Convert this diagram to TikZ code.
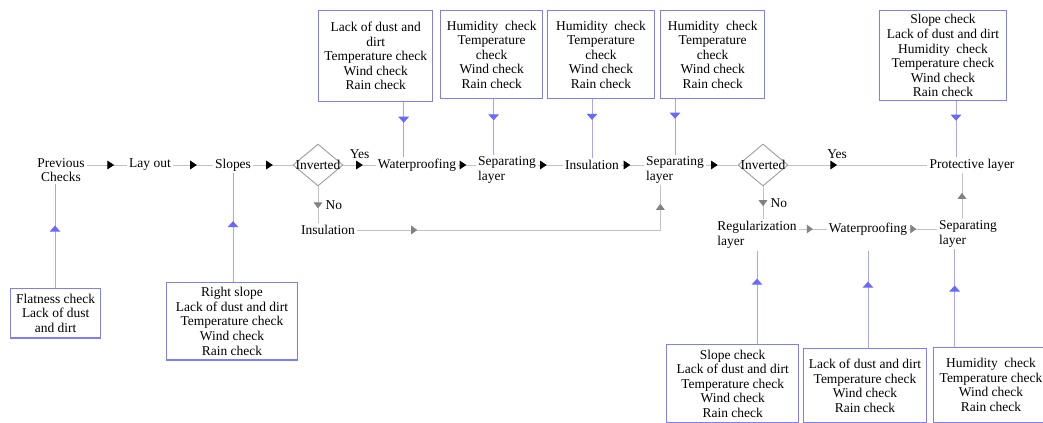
\documentclass[tikz,border=0pt]{standalone}
\usepackage{fontspec}
\setmainfont{Liberation Serif}
\usepackage{tikz}
\usetikzlibrary{arrows.meta,decorations.markings,shapes.geometric}
\definecolor{flowgray}{RGB}{195,195,195}
\definecolor{tipgray}{RGB}{130,130,130}
\definecolor{chkblue}{RGB}{125,125,255}
\definecolor{feedblue}{RGB}{165,165,255}
\definecolor{tipblue}{RGB}{105,105,255}
\newcommand{\flowfont}{\fontsize{10.1}{10.9}\selectfont}
\tikzset{
    %Define style for the stages
    stage/.style={
           font=\flowfont,
           inner sep=1.5pt,
           align=center},
    stagel/.style={
           stage,
           align=left},
    %Define style for the decisions
    decide/.style={
           diamond,
           draw=gray!75, line width=0.7pt,
           inner sep=0pt,
           minimum width=37.5pt,
           minimum height=31.5pt},
    %Define style for the check boxes
    chk/.style={
           rectangle,
           draw=chkblue, line width=1pt,
           anchor=north west,
           inner sep=2pt,
           font=\flowfont,
           align=center},
    % Define arrow styles
    flow/.style={
           draw=flowgray, line width=0.6pt,
           postaction={decorate},
           decoration={markings, mark=at position #1 with {\arrow[black]{Triangle[length=5pt,width=6.5pt]}}}},
    flow/.default=0.5,
    back/.style={
           draw=flowgray, line width=0.6pt,
           postaction={decorate},
           decoration={markings, mark=at position #1 with {\arrow[tipgray]{Triangle[length=4.5pt,width=6.5pt]}}}},
    back/.default=0.5,
    feed/.style={
           draw=feedblue, line width=0.7pt,
           postaction={decorate},
           decoration={markings, mark=at position #1 with {\arrow[tipblue]{Triangle[length=4.5pt,width=8pt]}}}},
    feed/.default=0.5
}
\begin{document}
\begin{tikzpicture}[x=0.75pt,y=-0.75pt]
\useasboundingbox (0,0) rectangle (1043,422);
 %main row
\node[stage] (prev) at (61,170) {Previous\\Checks};
\node[stage] (layout) at (150,165) {Lay out};
\node[stage] (slopes) at (233,165) {Slopes};
\node[decide, label={[stage,inner sep=0pt]center:Inverted}] (inv1) at (318,165) {};
\node[stage] (wp1) at (417,165) {Waterproofing};
\node[stagel] (sep1) at (507,170) {Separating\\layer};
\node[stage] (ins1) at (592,165) {Insulation};
\node[stagel] (sep2) at (675,170) {Separating\\layer};
\node[decide, label={[stage,inner sep=0pt]center:Inverted}] (inv2) at (763,165) {};
\node[stage] (prot) at (972,165) {Protective layer};
 %lower branches
\node[stage] (ins2) at (328,230) {Insulation};
\node[stagel] (reg) at (757,235) {Regularization\\layer};
\node[stage] (wp2) at (868,229) {Waterproofing};
\node[stagel] (sep3) at (968,234) {Separating\\layer};
 %check boxes
\node[chk, minimum width=85.5pt, minimum height=68pt] (chkwp) at (318,10) {Lack of dust and\\dirt\\Temperature check\\Wind check\\Rain check};
\node[chk, minimum width=76.5pt, minimum height=66pt] (chksep) at (440,10) {Humidity~ check\\Temperature\\check\\Wind check\\Rain check};
\node[chk, minimum width=80pt, minimum height=66pt] (chkins) at (547,10) {Humidity~ check\\Temperature\\check\\Wind check\\Rain check};
\node[chk, minimum width=78pt, minimum height=66pt] (chksep2) at (660,10) {Humidity~ check\\Temperature\\check\\Wind check\\Rain check};
\node[chk, minimum width=95pt, minimum height=67.5pt] (chkprot) at (879,10) {Slope check\\Lack of dust and dirt\\Humidity~ check\\Temperature check\\Wind check\\Rain check};
\node[chk, minimum width=67.5pt, minimum height=37pt] (chkprev) at (10,288) {Flatness check\\Lack of dust\\and dirt};
\node[chk, minimum width=98pt, minimum height=58pt] (chkslope) at (166,282) {Right slope\\Lack of dust and dirt\\Temperature check\\Wind check\\Rain check};
\node[chk, minimum width=99pt, minimum height=58.5pt] (chkreg) at (666,344) {Slope check\\Lack of dust and dirt\\Temperature check\\Wind check\\Rain check};
\node[chk, minimum width=92pt, minimum height=55.5pt] (chkwp2) at (803,348) {Lack of dust and dirt\\Temperature check\\Wind check\\Rain check};
\node[chk, minimum width=86pt, minimum height=56pt] (chksep3) at (933,347) {Humidity~ check\\Temperature check\\Wind check\\Rain check};
 %main flow
\draw[flow=0.68] (prev.east |- layout.west) -- (layout);
\draw[flow=0.6] (layout) -- (slopes);
\draw[flow] (slopes) -- (inv1);
\draw[flow=0.6] (inv1) -- node[stage, above=3pt] {Yes} (wp1);
\draw[flow=0.45] (wp1) -- (sep1.west |- wp1.east);
\draw[flow=0.35] (sep1.east |- ins1.west) -- (ins1);
\draw[flow=0.4] (ins1) -- (sep2.west |- ins1.east);
\draw[flow=0.37] (sep2.east |- inv2.west) -- (inv2);
\draw[flow=0.35] (inv2) -- node[stage, above=3pt, pos=0.35] {Yes} (prot);
 %lower flow
\draw[back=0.6] (inv1.south) -- node[stage, right=4pt] {No} (inv1.south |- ins2.north);
\draw[draw=flowgray, line width=0.6pt, postaction={decorate},
      decoration={markings,
        mark=at position 45pt with {\arrow[tipgray]{Triangle[length=4.5pt,width=6.5pt]}},
        mark=at position 247pt with {\arrow[tipgray]{Triangle[length=4.5pt,width=6.5pt]}}}]
      (ins2) -| ([xshift=-11pt]sep2.south);
\draw[back=0.6] (inv2.south) -- node[stage, right=4pt] {No} (inv2.south |- reg.north);
\draw[back=0.5] (reg.east |- wp2.west) -- (wp2);
\draw[back=0.25] (wp2) -- (sep3.west |- wp2.east);
\draw[back=0.57] ([xshift=-4.5pt]sep3.north) -- ([xshift=-4.5pt]sep3.north |- prot.south);
 %checks
\draw[feed=0.38] ([xshift=-10pt]wp1.north |- chkwp.south) -- ([xshift=-10pt]wp1.north);
\draw[feed=0.38] ([xshift=-10pt]sep1.north |- chksep.south) -- ([xshift=-10pt]sep1.north);
\draw[feed=0.35] (ins1.north |- chkins.south) -- (ins1.north);
\draw[feed=0.35] (sep2.north |- chksep2.south) -- (sep2.north);
\draw[feed=0.35] ([xshift=-12pt]prot.north |- chkprot.south) -- ([xshift=-12pt]prot.north);
\draw[feed=0.6] ([xshift=-4.5pt]prev.south |- chkprev.north) -- ([xshift=-4.5pt]prev.south);
\draw[feed=0.56] (slopes.south |- chkslope.north) -- (slopes.south);
\draw[feed=0.7] (reg.south |- chkreg.north) -- (reg.south);
\draw[feed=0.6, shorten >=10pt] (wp2.south |- chkwp2.north) -- (wp2.south);
\draw[feed=0.63] ([xshift=-10pt]sep3.south |- chksep3.north) -- ([xshift=-10pt]sep3.south);
\end{tikzpicture}
\end{document}
